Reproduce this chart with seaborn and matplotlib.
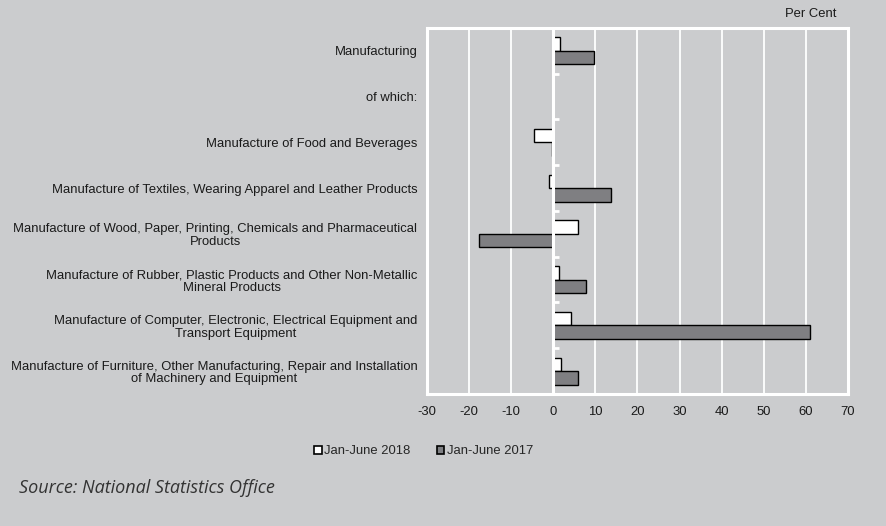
import numpy as np
import pandas as pd
import seaborn as sns
import matplotlib.pyplot as plt
from matplotlib.patches import Patch

# Categories (top to bottom) and growth rates, per cent
categories = [
    "Manufacturing",
    "of which:",
    "Manufacture of Food and Beverages",
    "Manufacture of Textiles, Wearing Apparel and Leather Products",
    "Manufacture of Wood, Paper, Printing, Chemicals and Pharmaceutical\nProducts",
    "Manufacture of Rubber, Plastic Products and Other Non-Metallic\nMineral Products",
    "Manufacture of Computer, Electronic, Electrical Equipment and\nTransport Equipment",
    "Manufacture of Furniture, Other Manufacturing, Repair and Installation\nof Machinery and Equipment",
]
series_names = ["Jan-June 2018", "Jan-June 2017"]
values_2018 = [1.7, np.nan, -4.5, -1.1, 5.8, 1.3, 4.2, 1.9]
values_2017 = [9.6, np.nan, -0.3, 13.6, -17.7, 7.7, 61.0, 5.8]
x_ticks = [-30, -20, -10, 0, 10, 20, 30, 40, 50, 60, 70]

bg = "#CBCCCE"
txt = "#1a1a1a"
fs = 9.4
bar_colors = {"Jan-June 2018": "#FFFFFF", "Jan-June 2017": "#7E7F83"}

df = pd.DataFrame({
    "category": categories * 2,
    "period": [series_names[0]] * len(categories) + [series_names[1]] * len(categories),
    "value": values_2018 + values_2017,
})

sns.set_theme(style="white")
plt.rcParams["font.family"] = ["Liberation Sans", "DejaVu Sans"]

fig = plt.figure(figsize=(8.86, 5.26), dpi=100, facecolor=bg)
ax = fig.add_axes([0.482, 0.251, 0.475, 0.696])
ax.set_facecolor(bg)

sns.barplot(
    data=df, y="category", x="value", hue="period",
    order=categories, hue_order=series_names, palette=bar_colors,
    orient="h", width=0.59, edgecolor="black", linewidth=1.0,
    legend=False, ax=ax, zorder=3,
)

ax.set_xlim(-30, 70)
ax.set_ylim(len(categories) - 0.5, -0.5)
ax.set_xticks(x_ticks)
ax.set_xticklabels([str(t) for t in x_ticks], fontsize=fs, color=txt)
ax.set_yticklabels(categories, fontsize=fs, color=txt, linespacing=1.1,
                   multialignment="center")
ax.set_xlabel("")
ax.set_ylabel("")
ax.tick_params(axis="both", length=0)
ax.tick_params(axis="y", pad=7)
ax.tick_params(axis="x", pad=9)

# Vertical white gridlines and frame
ax.grid(axis="x", color="white", linewidth=1.3, zorder=1)
ax.set_axisbelow(True)
for s in ax.spines.values():
    s.set_visible(True)
    s.set_color("white")
    s.set_linewidth(2.2)

# Zero line with small tick nubs at category boundaries
ax.axvline(0, color="white", linewidth=2.2, zorder=4)
zero_pos = (0 - ax.get_xlim()[0]) / (ax.get_xlim()[1] - ax.get_xlim()[0])
secax = ax.secondary_yaxis(zero_pos)
secax.set_yticks(np.arange(0.5, len(categories) - 1, 1.0))
secax.set_yticklabels([])
secax.tick_params(axis="y", direction="in", length=4, width=2, color="white")
secax.spines["left"].set_visible(False)
secax.spines["right"].set_visible(False)

fig.text(0.944, 0.973, "Per Cent", ha="right", va="center", fontsize=fs, color=txt)

handles = [Patch(facecolor=bar_colors[n], edgecolor="black", linewidth=1.2, label=n) for n in series_names]
fig.legend(handles=handles, loc="center", bbox_to_anchor=(0.478, 0.142),
           ncol=2, frameon=False, fontsize=fs, handlelength=0.6, handleheight=0.6,
           handletextpad=0.2, columnspacing=2.0)

fig.text(0.021, 0.072, "Source: National Statistics Office", ha="left", va="center",
         fontsize=13, style="italic", color="#333333",
         family=["Open Sans", "DejaVu Sans"])

fig.savefig("out.png", dpi=100, facecolor=bg)
